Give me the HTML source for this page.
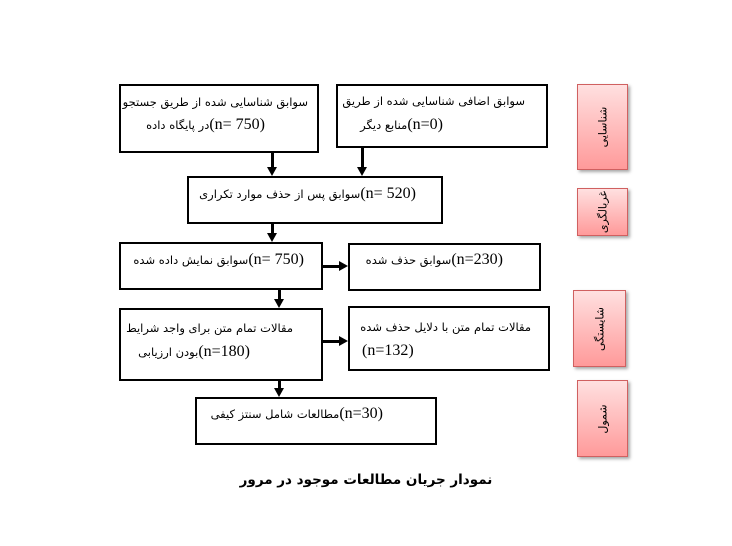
<!DOCTYPE html>
<html><head><meta charset="utf-8"><style>
body{margin:0;width:732px;height:546px;background:#fff;position:relative;overflow:hidden;font-family:"DejaVu Sans",sans-serif;}
.b{position:absolute;border:2px solid #000;box-sizing:border-box;background:#fff}
.t{position:absolute;white-space:nowrap;font-size:11.5px;color:#000;direction:rtl;text-align:right;line-height:24px}
.n{font-family:"Liberation Serif",serif;font-size:16px}
.ln{position:absolute;background:#000}
.side{position:absolute;border:1px solid #d06060;background:linear-gradient(#ffe0e0,#ff9a9a);box-shadow:2px 2px 3px rgba(0,0,0,.35)}
.side span{position:absolute;left:50%;top:50%;transform:translate(-50%,-50%) rotate(-90deg);white-space:nowrap;font-size:11px;font-family:"DejaVu Sans",sans-serif;}
.ah{position:absolute;width:0;height:0}
</style></head><body>
<div class="b" style="left:119px;top:84px;width:200px;height:69px"></div>
<div class="t" style="right:424px;top:90px">سوابق شناسایی شده از طریق جستجو</div>
<div class="t" style="right:467px;top:113px"><span class="n">(n= 750)</span>در پایگاه داده</div>
<div class="b" style="left:336px;top:84px;width:212px;height:64px"></div>
<div class="t" style="right:207px;top:89px">سوابق اضافی شناسایی شده از طریق</div>
<div class="t" style="right:289px;top:113px"><span class="n">(n=0)</span>منابع دیگر</div>
<div class="b" style="left:187px;top:176px;width:256px;height:48px"></div>
<div class="t" style="right:316px;top:182px"><span class="n">(n= 520)</span>سوابق پس از حذف موارد تکراری</div>
<div class="b" style="left:119px;top:242px;width:204px;height:48px"></div>
<div class="t" style="right:428px;top:248px"><span class="n">(n= 750)</span>سوابق نمایش داده شده</div>
<div class="b" style="left:348px;top:243px;width:193px;height:48px"></div>
<div class="t" style="right:229px;top:248px"><span class="n">(n=230)</span>سوابق حذف شده</div>
<div class="b" style="left:119px;top:308px;width:204px;height:73px"></div>
<div class="t" style="right:439px;top:316px">مقالات تمام متن برای واجد شرایط</div>
<div class="t" style="right:482px;top:340px"><span class="n">(n=180)</span>بودن ارزیابی</div>
<div class="b" style="left:348px;top:306px;width:202px;height:65px"></div>
<div class="t" style="right:201px;top:315px">مقالات تمام متن با دلایل حذف شده</div>
<div class="t" style="left:362px;top:339px;direction:ltr"><span class="n">(n=132)</span></div>
<div class="b" style="left:195px;top:397px;width:242px;height:48px"></div>
<div class="t" style="right:349px;top:402px"><span class="n">(n=30)</span>مطالعات شامل سنتز کیفی</div>
<div class="ln" style="left:271px;top:153px;width:3px;height:15px"></div>
<div class="ah" style="left:267px;top:167px;border-left:5.5px solid transparent;border-right:5.5px solid transparent;border-top:9px solid #000"></div>
<div class="ln" style="left:361px;top:148px;width:3px;height:20px"></div>
<div class="ah" style="left:357px;top:167px;border-left:5.5px solid transparent;border-right:5.5px solid transparent;border-top:9px solid #000"></div>
<div class="ln" style="left:271px;top:224px;width:3px;height:10px"></div>
<div class="ah" style="left:267px;top:233px;border-left:5.5px solid transparent;border-right:5.5px solid transparent;border-top:9px solid #000"></div>
<div class="ln" style="left:278px;top:290px;width:3px;height:10px"></div>
<div class="ah" style="left:274px;top:299px;border-left:5.5px solid transparent;border-right:5.5px solid transparent;border-top:9px solid #000"></div>
<div class="ln" style="left:278px;top:381px;width:3px;height:8px"></div>
<div class="ah" style="left:274px;top:388px;border-left:5.5px solid transparent;border-right:5.5px solid transparent;border-top:9px solid #000"></div>
<div class="ln" style="left:323px;top:265px;width:17px;height:3px"></div>
<div class="ah" style="left:339px;top:261px;border-top:5.5px solid transparent;border-bottom:5.5px solid transparent;border-left:9px solid #000"></div>
<div class="ln" style="left:323px;top:340px;width:17px;height:3px"></div>
<div class="ah" style="left:339px;top:336px;border-top:5.5px solid transparent;border-bottom:5.5px solid transparent;border-left:9px solid #000"></div>
<div class="t" style="left:0;width:732px;text-align:center;top:468px;font-size:13.5px;font-weight:bold;">نمودار جریان مطالعات موجود در مرور</div>
<div class="side" style="left:577px;top:84px;width:49px;height:84px"><span>شناسایی</span></div>
<div class="side" style="left:577px;top:188px;width:49px;height:46px"><span>غربالگری</span></div>
<div class="side" style="left:573px;top:290px;width:51px;height:75px"><span>شایستگی</span></div>
<div class="side" style="left:577px;top:380px;width:49px;height:75px"><span>شمول</span></div>
</body></html>
